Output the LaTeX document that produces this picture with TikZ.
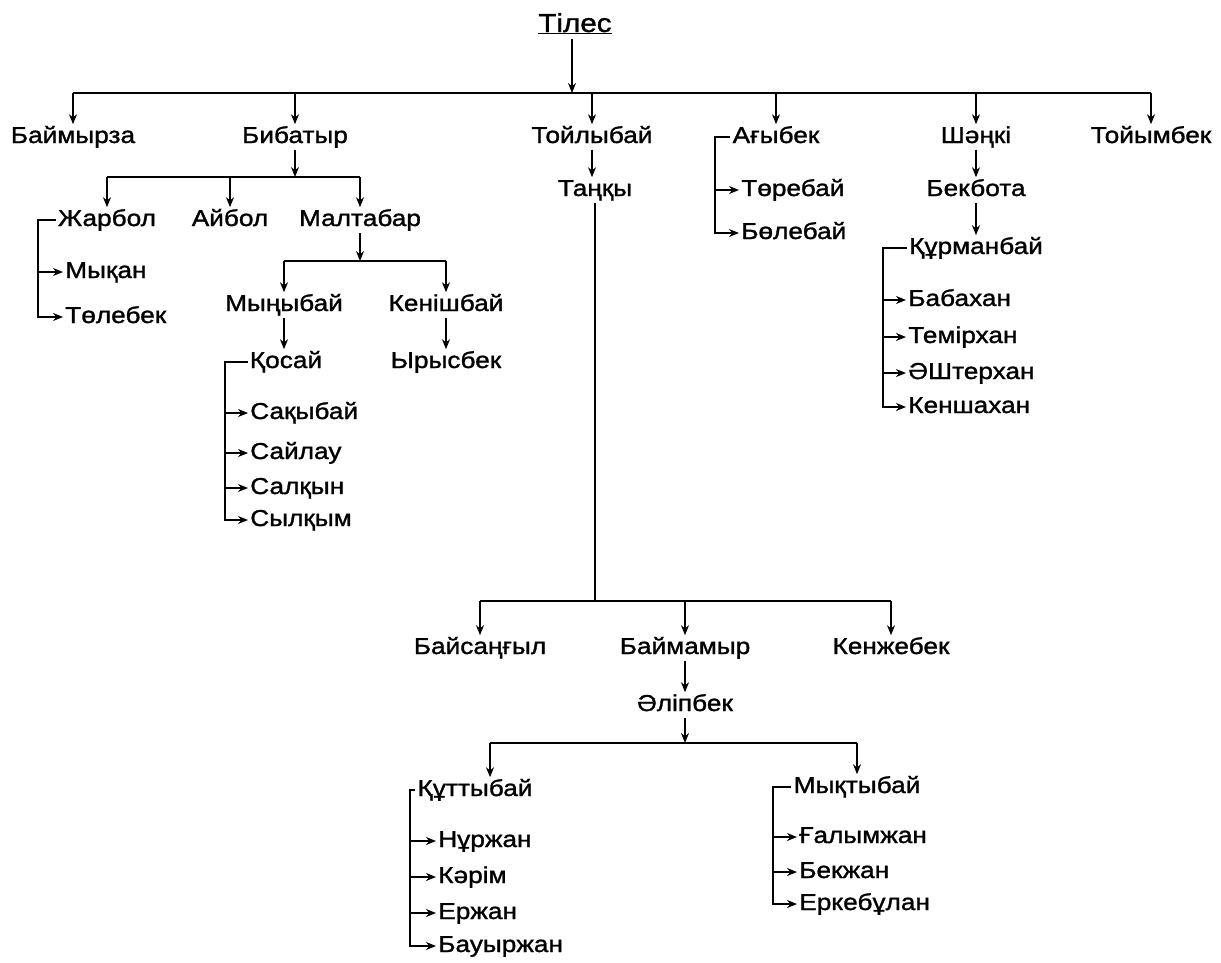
\documentclass[tikz,border=0pt]{standalone}
\usepackage{fontspec}
\setmainfont{Liberation Sans}[FakeStretch=1.14,FakeBold=1.3]
\usetikzlibrary{arrows.meta}
\begin{document}
\begin{tikzpicture}[x=1pt,y=-1pt,>={Stealth[length=10pt,width=8pt]},line width=1.6pt,
  nm/.style={inner sep=1.5pt,font=\fontsize{23}{26}\selectfont,text height=16.5pt,text depth=4.5pt},
  kid/.style={nm,anchor=west}]
  \useasboundingbox (0,0) rectangle (1221,962);
  \node[nm,font=\fontsize{26}{30}\selectfont] (tiles) at (575,26) {\underline{Тілес}};
  \coordinate (b0) at (572,93);
  \node[nm] (baym) at (73,137) {Баймырза};
  \node[nm] (bib) at (295,137) {Бибатыр};
  \node[nm] (toil) at (592,137) {Тойлыбай};
  \node[nm] (agy) at (776,137) {Ағыбек};
  \node[nm] (shan) at (976,137) {Шәңкі};
  \node[nm] (toiym) at (1151,137) {Тойымбек};
  \draw[->] (tiles.south -| b0) -- (b0);
  \draw (b0 -| baym) -- (b0 -| toiym);
  \draw[->] (b0 -| baym) -- (baym);
  \draw[->] (b0 -| bib) -- (bib);
  \draw[->] (b0 -| toil) -- (toil);
  \draw[->] (b0 -| agy) -- (agy);
  \draw[->] (b0 -| shan) -- (shan);
  \draw[->] (b0 -| toiym) -- (toiym);
  % Бибатыр
  \coordinate (b1) at (295,177);
  \node[nm] (zhar) at (107,220) {Жарбол};
  \node[nm] (aibol) at (230,220) {Айбол};
  \node[nm] (malt) at (360,220) {Малтабар};
  \draw[->] (bib) -- (b1);
  \draw (b1 -| zhar) -- (b1 -| malt);
  \draw[->] (b1 -| zhar) -- (zhar);
  \draw[->] (b1 -| aibol) -- (aibol);
  \draw[->] (b1 -| malt) -- (malt);
  \coordinate (zhB) at (38,220);
  \node[kid] (mykan) at (63,272) {Мықан};
  \node[kid] (toleb) at (63,317) {Төлебек};
  \draw[->] (zhar.west) -- (zhB) |- (toleb.west);
  \draw[->] (zhB |- mykan) -- (mykan.west);
  \coordinate (b2) at (360,261);
  \node[nm] (myny) at (284,305) {Мыңыбай};
  \node[nm] (kenish) at (446,305) {Кенішбай};
  \draw[->] (malt) -- (b2);
  \draw (b2 -| myny) -- (b2 -| kenish);
  \draw[->] (b2 -| myny) -- (myny);
  \draw[->] (b2 -| kenish) -- (kenish);
  \node[nm] (qosai) at (286,362) {Қосай};
  \node[nm] (yrys) at (446,362) {Ырысбек};
  \draw[->] (myny) -- (myny |- qosai.north);
  \draw[->] (kenish) -- (yrys);
  \coordinate (qoB) at (225,362);
  \node[kid] (saqy) at (248,413) {Сақыбай};
  \node[kid] (sailau) at (248,453) {Сайлау};
  \node[kid] (salq) at (248,488) {Салқын};
  \node[kid] (sylq) at (248,520) {Сылқым};
  \draw[->] (qosai.west) -- (qoB) |- (sylq.west);
  \draw[->] (qoB |- saqy) -- (saqy.west);
  \draw[->] (qoB |- sailau) -- (sailau.west);
  \draw[->] (qoB |- salq) -- (salq.west);
  % Ағыбек
  \coordinate (agB) at (715,137);
  \node[kid] (toreb) at (739,190) {Төребай};
  \node[kid] (boleb) at (739,233) {Бөлебай};
  \draw[->] (agy.west) -- (agB) |- (boleb.west);
  \draw[->] (agB |- toreb) -- (toreb.west);
  % Шәңкі
  \node[nm] (bekb) at (976,190) {Бекбота};
  \node[nm] (qurm) at (976,248) {Құрманбай};
  \draw[->] (shan) -- (bekb);
  \draw[->] (bekb) -- (qurm);
  \coordinate (quB) at (883,248);
  \node[kid] (babax) at (906,300) {Бабахан};
  \node[kid] (temir) at (906,337) {Темірхан};
  \node[kid] (ashter) at (906,373) {ӘШтерхан};
  \node[kid] (kensh) at (906,407) {Кеншахан};
  \draw[->] (qurm.west) -- (quB) |- (kensh.west);
  \draw[->] (quB |- babax) -- (babax.west);
  \draw[->] (quB |- temir) -- (temir.west);
  \draw[->] (quB |- ashter) -- (ashter.west);
  % Тойлыбай
  \node[nm] (tanqy) at (595,190) {Таңқы};
  \draw[->] (toil) -- (toil |- tanqy.north);
  \coordinate (b3) at (595,601);
  \node[nm] (baisan) at (480,648) {Байсаңғыл};
  \node[nm] (baimam) at (685,648) {Баймамыр};
  \node[nm] (kenzh) at (891,648) {Кенжебек};
  \draw (tanqy) -- (b3);
  \draw (b3 -| baisan) -- (b3 -| kenzh);
  \draw[->] (b3 -| baisan) -- (baisan);
  \draw[->] (b3 -| baimam) -- (baimam);
  \draw[->] (b3 -| kenzh) -- (kenzh);
  \node[nm] (alip) at (685,705) {Әліпбек};
  \draw[->] (baimam) -- (alip);
  \coordinate (b4) at (685,743);
  \coordinate (b4L) at (490,743);
  \node[nm] (qutt) at (475,790) {Құттыбай};
  \node[nm] (mykt) at (857,787) {Мықтыбай};
  \draw[->] (alip) -- (b4);
  \draw (b4L) -- (b4 -| mykt);
  \draw[->] (b4L) -- (b4L |- qutt.north);
  \draw[->] (b4 -| mykt) -- (mykt);
  \coordinate (qtB) at (410,790);
  \node[kid] (nurzh) at (436,841) {Нұржан};
  \node[kid] (karim) at (436,877) {Кәрім};
  \node[kid] (erzh) at (436,913) {Ержан};
  \node[kid] (bauyr) at (436,946) {Бауыржан};
  \draw[->] (qutt.west) -- (qtB) |- (bauyr.west);
  \draw[->] (qtB |- nurzh) -- (nurzh.west);
  \draw[->] (qtB |- karim) -- (karim.west);
  \draw[->] (qtB |- erzh) -- (erzh.west);
  \coordinate (myB) at (773,787);
  \node[kid] (galym) at (797,837) {Ғалымжан};
  \node[kid] (bekzh) at (797,872) {Бекжан};
  \node[kid] (erkeb) at (797,904) {Еркебұлан};
  \draw[->] (mykt.west) -- (myB) |- (erkeb.west);
  \draw[->] (myB |- galym) -- (galym.west);
  \draw[->] (myB |- bekzh) -- (bekzh.west);
\end{tikzpicture}
\end{document}
